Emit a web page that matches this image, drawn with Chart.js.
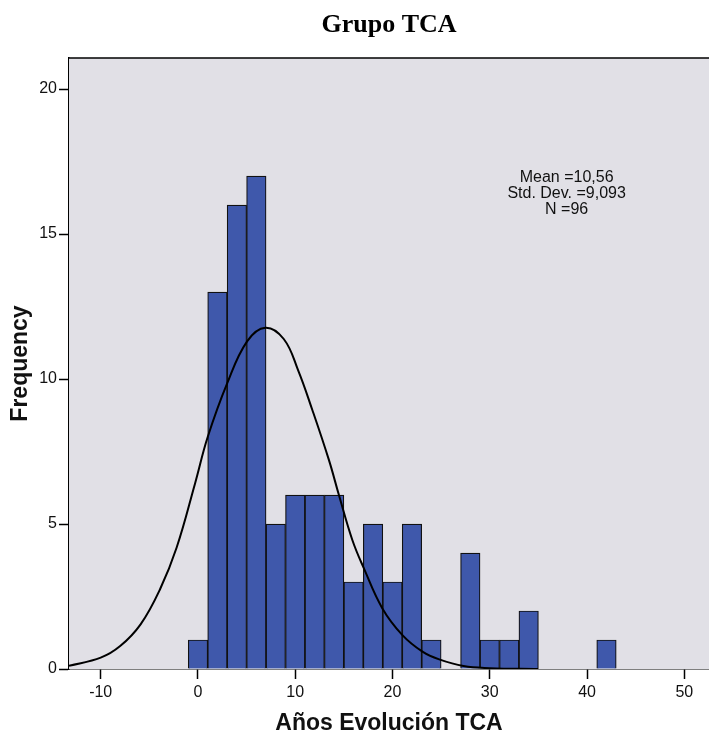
<!DOCTYPE html>
<html>
<head>
<meta charset="utf-8">
<script src="https://cdn.jsdelivr.net/npm/chart.js@4.4.0/dist/chart.umd.min.js"></script>
<style>
  body { margin: 0; background: #fff; }
  #wrap { width: 709px; height: 738px; }
</style>
</head>
<body>
<div id="wrap"><canvas id="histo"></canvas></div>
<script>
// histogram bins (centre of each 2-year bin) and counts
var binCenters = [0, 2, 4, 6, 8, 10, 12, 14, 16, 18, 20, 22, 24, 26, 28, 30, 32, 34, 36, 38, 40, 42];
var binCounts  = [1, 13, 16, 17, 5, 6, 6, 6, 3, 5, 3, 5, 1, 0, 4, 1, 1, 2, 0, 0, 0, 1];

// fitted curve, read point by point
var curveX = [-13.26, -10, -8, -5.9, -3.9, -2.2, -0.3, 1, 3, 5.05, 6.93, 8.82, 10.3, 11.75, 13.46, 14.49, 15.87, 17.06, 18.96, 21.02, 23.08, 24.8, 27.3, 30, 35];
var curveY = [0.11, 0.39, 0.79, 1.54, 2.75, 4.18, 6.4, 8.0, 9.85, 11.3, 11.77, 11.38, 10.3, 8.94, 7.21, 6.0, 4.45, 3.47, 2.09, 1.17, 0.6, 0.33, 0.1, 0.03, 0];

var xTicks = [-10, 0, 10, 20, 30, 40, 50];
var yTicks = [0, 5, 10, 15, 20];

var statsLines = ["Mean =10,56", "Std. Dev. =9,093", "N =96"];

var barData = [];
for (var i = 0; i < binCenters.length; i++) {
    barData.push({x: binCenters[i], y: binCounts[i] > 0 ? binCounts[i] : null});
}
var lineData = [];
for (var j = 0; j < curveX.length; j++) {
    lineData.push({x: curveX[j], y: curveY[j]});
}

// grey plot background, top frame line and the stats box
var plotDecor = {
    id: "plotDecor",
    beforeDatasetsDraw: function(chart) {
        var ctx = chart.ctx, a = chart.chartArea;
        ctx.save();
        ctx.fillStyle = "#e1e0e6";
        ctx.fillRect(a.left, a.top, a.right - a.left, a.bottom - a.top);
        ctx.strokeStyle = "#000";
        ctx.lineWidth = 1.5;
        ctx.beginPath();
        ctx.moveTo(a.left, a.top);
        ctx.lineTo(a.right, a.top);
        ctx.stroke();
        ctx.restore();
    },
    afterDraw: function(chart) {
        var ctx = chart.ctx;
        var px = chart.scales.x.getPixelForValue(37.9);
        var py = chart.scales.y.getPixelForValue(16.95);
        ctx.save();
        ctx.fillStyle = "#111";
        ctx.font = "16px 'Liberation Sans', Arial, sans-serif";
        ctx.textAlign = "center";
        ctx.textBaseline = "middle";
        for (var k = 0; k < statsLines.length; k++) {
            ctx.fillText(statsLines[k], px, py + k * 16);
        }
        ctx.restore();
    }
};

new Chart("histo", {
    type: "bar",
    data: {
        datasets: [{
            type: "line",
            data: lineData,
            borderColor: "#000",
            borderWidth: 2,
            pointRadius: 0,
            tension: 0.4,
            fill: false,
            order: 0
        }, {
            type: "bar",
            data: barData,
            backgroundColor: "#3f58ab",
            borderColor: "#111",
            borderWidth: 1.2,
            barPercentage: 1,
            categoryPercentage: 1,
            order: 1
        }]
    },
    options: {
        responsive: true,
        maintainAspectRatio: false,
        animation: false,
        layout: {padding: 0},
        plugins: {
            legend: {display: false},
            tooltip: {enabled: false},
            title: {
                display: true,
                text: "Grupo TCA",
                fullSize: false,
                color: "#000",
                font: {family: "'Liberation Serif', 'Times New Roman', serif", size: 26, weight: "bold"},
                padding: {top: 10, bottom: 16.8}
            }
        },
        scales: {
            x: {
                type: "linear",
                min: -13.26,
                max: 52.54,
                offset: false,
                grid: {drawOnChartArea: false, drawTicks: true, tickLength: 10, tickColor: "#000", tickWidth: 1.5, offset: false},
                border: {display: true, color: "#000", width: 1.5},
                afterBuildTicks: function(scale) {
                    scale.ticks = xTicks.map(function(v) { return {value: v}; });
                },
                afterFit: function(scale) { scale.height = 69; },
                ticks: {
                    color: "#111",
                    padding: 4,
                    maxRotation: 0,
                    font: {family: "'Liberation Sans', Arial, sans-serif", size: 16}
                },
                title: {
                    display: true,
                    text: "Años Evolución TCA",
                    color: "#111",
                    padding: {top: 0, bottom: 1},
                    font: {family: "'Liberation Sans', Arial, sans-serif", size: 23, weight: "bold"}
                }
            },
            y: {
                min: 0,
                max: 21.07,
                grid: {drawOnChartArea: false, drawTicks: true, tickLength: 10, tickColor: "#000", tickWidth: 1.5},
                border: {display: true, color: "#000", width: 1.5},
                afterBuildTicks: function(scale) {
                    scale.ticks = yTicks.map(function(v) { return {value: v}; });
                },
                afterFit: function(scale) { scale.width = 69; },
                ticks: {
                    color: "#111",
                    padding: 2,
                    font: {family: "'Liberation Sans', Arial, sans-serif", size: 16}
                },
                title: {
                    display: true,
                    text: "Frequency",
                    color: "#111",
                    padding: {top: 7, bottom: 0},
                    font: {family: "'Liberation Sans', Arial, sans-serif", size: 23, weight: "bold"}
                }
            }
        }
    },
    plugins: [plotDecor]
});
</script>
</body>
</html>
